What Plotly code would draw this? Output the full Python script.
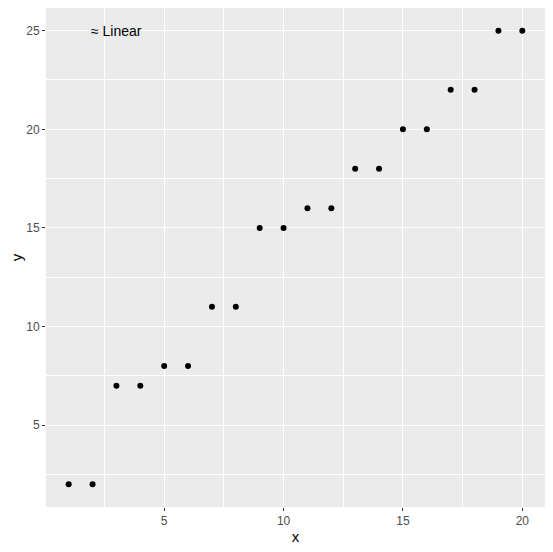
import plotly.graph_objects as go

x_vals = list(range(1, 21))
y_vals = [2, 2, 7, 7, 8, 8, 11, 11, 15, 15, 16, 16, 18, 18, 20, 20, 22, 22, 25, 25]
label_text = "≈ Linear"
label_x = 3
label_y = 25

fig = go.Figure()
fig.add_trace(go.Scatter(
    x=x_vals, y=y_vals, mode="markers",
    marker=dict(color="black", size=6),
    showlegend=False,
))
fig.add_annotation(x=label_x, y=label_y, text=label_text, showarrow=False,
                   font=dict(family="Liberation Sans, Arial", size=14, color="black"))

axis_common = dict(
    showgrid=True, gridcolor="white", gridwidth=1.1,
    zeroline=False, showline=False, automargin=False,
    ticks="outside", ticklen=3, tickcolor="#333333", tickwidth=1,
    tickfont=dict(family="Liberation Sans, Arial", size=12, color="#4D4D4D"),
    title_font=dict(family="Liberation Sans, Arial", size=15, color="black"),
    minor=dict(dtick=2.5, showgrid=True, gridcolor="white", gridwidth=0.5, ticks=""),
)

fig.update_xaxes(axis_common, range=[0.05, 20.95], tick0=5, dtick=5,
                 title_text="x", title_standoff=4)
fig.update_yaxes(axis_common, range=[0.85, 26.15], tick0=5, dtick=5,
                 title_text="y", title_standoff=6)

# page body adds an 8px margin, so the figure is a bit smaller than the window
fig.update_layout(
    width=545, height=544,
    margin=dict(l=38, r=8, t=0, b=45),
    plot_bgcolor="#EBEBEB", paper_bgcolor="white",
    font=dict(family="Liberation Sans, Arial"),
)

fig.write_html("out.html")
